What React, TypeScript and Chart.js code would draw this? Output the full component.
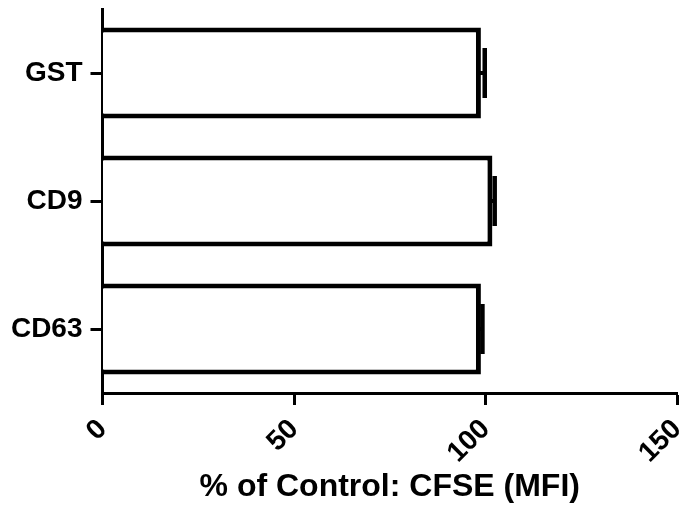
import React, { useEffect, useRef } from "react";
import { Chart, registerables } from "chart.js";

Chart.register(...registerables);

const categories = ["GST", "CD9", "CD63"];
const values = [98.8, 101.8, 98.8];
const errors = [1.0, 0.6, 0.4];
const xTicks = [0, 50, 100, 150];
const xTitle = "% of Control: CFSE (MFI)";

const FONT = "'Liberation Sans', Arial, sans-serif";

const errorBarPlugin = {
  id: "errorBars",
  afterDatasetsDraw(chart: any) {
    const meta = chart.getDatasetMeta(0);
    const xs = chart.scales.x;
    const ctx = chart.ctx;
    ctx.save();
    ctx.strokeStyle = "#000";
    meta.data.forEach((bar: any, i: number) => {
      const x0 = xs.getPixelForValue(values[i]);
      const x1 = xs.getPixelForValue(values[i] + errors[i]);
      const y = bar.y;
      ctx.lineWidth = 4;
      ctx.beginPath();
      ctx.moveTo(x0 - 2, y);
      ctx.lineTo(x1, y);
      ctx.stroke();
      ctx.lineWidth = 4.5;
      ctx.beginPath();
      ctx.moveTo(x1, y - 25);
      ctx.lineTo(x1, y + 25);
      ctx.stroke();
    });
    ctx.restore();
  },
};

export default function App() {
  const ref = useRef<HTMLCanvasElement | null>(null);
  useEffect(() => {
    if (!ref.current) return;
    const chart = new Chart(ref.current, {
      type: "bar",
      data: {
        labels: categories,
        datasets: [
          {
            data: values,
            backgroundColor: "#ffffff",
            borderColor: "#000000",
            borderWidth: 5,
            borderSkipped: "start",
            barPercentage: 0.71,
            categoryPercentage: 1,
          },
        ],
      },
      options: {
        indexAxis: "y",
        animation: false,
        responsive: false,
        devicePixelRatio: 1,
        layout: { padding: { left: 0, right: 4, top: 9, bottom: 0 } },
        plugins: {
          legend: { display: false },
          tooltip: { enabled: false },
        },
        scales: {
          x: {
            type: "linear",
            min: 0,
            max: 150,
            z: 1,
            afterBuildTicks: (scale: any) => {
              scale.ticks = xTicks.map((v) => ({ value: v }));
            },
            afterFit: (scale: any) => {
              scale.height = 113;
              scale.paddingLeft = 0;
              scale.paddingRight = 0;
            },
            ticks: {
              color: "#000",
              font: { family: FONT, size: 28, weight: "bold" },
              maxRotation: 45,
              minRotation: 45,
              padding: 8,
            },
            grid: {
              drawOnChartArea: false,
              drawTicks: true,
              tickLength: 12,
              tickWidth: 3,
              tickColor: "#000",
            },
            border: { display: true, color: "#000", width: 3 },
            title: {
              display: true,
              text: xTitle,
              color: "#000",
              font: { family: FONT, size: 32, weight: "bold" },
              padding: { top: 0, bottom: 0 },
            },
          },
          y: {
            z: 1,
            afterFit: (scale: any) => {
              scale.width = 102.5;
              scale.paddingTop = 0;
              scale.paddingBottom = 0;
            },
            ticks: {
              color: "#000",
              font: { family: FONT, size: 28, weight: "bold" },
              padding: 8,
            },
            grid: {
              offset: false,
              drawOnChartArea: false,
              drawTicks: true,
              tickLength: 12,
              tickWidth: 3,
              tickColor: "#000",
            },
            border: { display: true, color: "#000", width: 3 },
          },
        },
      },
      plugins: [errorBarPlugin],
    } as any);
    return () => chart.destroy();
  }, []);
  return (
    <div style={{ position: "absolute", left: 0, top: 0, width: 681, height: 506, background: "#fff" }}>
      <canvas ref={ref} width={681} height={506} />
    </div>
  );
}
